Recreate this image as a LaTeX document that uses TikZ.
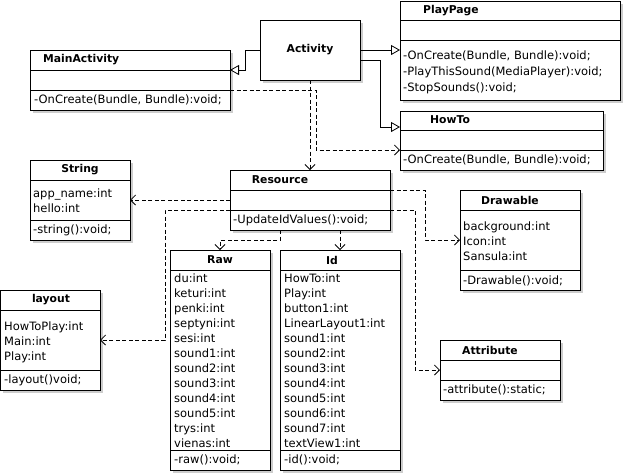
\documentclass[tikz,border=0pt]{standalone}
\usepackage{fontspec}
\newfontfamily\umlf{DejaVu Sans}
\usetikzlibrary{arrows.meta}
\definecolor{shadowc}{RGB}{205,205,205}
\newcommand\umlcls[5]{%
  \fill[shadowc] (#2+3,#3+3) rectangle (#4+3,#5+3);
  \node[clsbox, minimum width={#4-#2}, minimum height={#5-#3}, anchor=north west] (#1) at (#2,#3) {};
}
\newcommand\umlsep[3]{\draw[sepline] (#1,#3) -- (#2,#3);}
\tikzset{
  clsbox/.style={draw, fill=white, line width=0.8pt, inner sep=0pt, outer sep=0pt, rectangle},
  sepline/.style={line width=0.8pt},
  ttl/.style={font=\umlf\bfseries\fontsize{10.8}{13}\selectfont, inner sep=0pt},
  txt/.style={font=\umlf\fontsize{11.5}{15}\selectfont, inner sep=0pt, align=left, anchor=west},
  txtblk/.style={font=\umlf\fontsize{11.5}{15}\selectfont, inner sep=0pt, align=left, anchor=north west},
  inh/.style={line width=0.8pt, -{Triangle[open, length=9pt, width=10pt]}},
  dep/.style={line width=0.8pt, dash pattern=on 4pt off 2.5pt, -{Straight Barb[length=5pt, width=10pt]}},
}
\begin{document}
\begin{tikzpicture}[x=1pt, y=-1pt]
\useasboundingbox (0,0) rectangle (625,475);
% Activity
\umlcls{act}{260}{20}{360}{80}
\node[ttl] (actT) at (310,50) {Activity};
% MainActivity
\umlcls{main}{30}{50}{230}{110}
\umlsep{30}{230}{70}\umlsep{30}{230}{90}
\node[ttl, anchor=west] (mainT) at (43,60) {MainActivity};
\node[txt] (mainM) at (34,100) {-OnCreate(Bundle, Bundle):void;};
% PlayPage
\umlcls{play}{400}{1}{620}{100}
\umlsep{400}{620}{20}\umlsep{400}{620}{40}
\node[ttl, anchor=west] (playT) at (423,11) {PlayPage};
\node[txtblk, font=\umlf\fontsize{11.5}{16}\selectfont] (playM) at (403,51) {-OnCreate(Bundle, Bundle):void;\\-PlayThisSound(MediaPlayer):void;\\-StopSounds():void;};
% HowTo
\umlcls{how}{400}{111}{603}{170}
\umlsep{400}{603}{130}\umlsep{400}{603}{150}
\node[ttl, anchor=west] (howT) at (430,120) {HowTo};
\node[txt] (howM) at (403,160) {-OnCreate(Bundle, Bundle):void;};
% String
\umlcls{str}{30}{160}{130}{240}
\umlsep{30}{130}{180}\umlsep{30}{130}{220}
\node[ttl] (strT) at (80,170) {String};
\node[txtblk] (strA) at (33,189) {app\_name:int\\hello:int};
\node[txt] (strM) at (33,230) {-string():void;};
% Resource
\umlcls{res}{230}{170}{390}{230}
\umlsep{230}{390}{190}\umlsep{230}{390}{210}
\node[ttl] (resT) at (280,180) {Resource};
\node[txt] (resM) at (233,220) {-UpdateIdValues():void;};
% Drawable
\umlcls{draw}{460}{190}{580}{290}
\umlsep{460}{580}{210}\umlsep{460}{580}{270}
\node[ttl] (drawT) at (510,200) {Drawable};
\node[txtblk] (drawA) at (463,222) {background:int\\Icon:int\\Sansula:int};
\node[txt] (drawM) at (463,281) {-Drawable():void;};
% Raw
\umlcls{raw}{170}{250}{270}{470}
\umlsep{170}{270}{270}\umlsep{170}{270}{450}
\node[ttl] (rawT) at (220,260) {Raw};
\node[txtblk] (rawA) at (174,274) {du:int\\keturi:int\\penki:int\\septyni:int\\sesi:int\\sound1:int\\sound2:int\\sound3:int\\sound4:int\\sound5:int\\trys:int\\vienas:int};
\node[txt] (rawM) at (174,460) {-raw():void;};
% Id
\umlcls{id}{280}{250}{400}{470}
\umlsep{280}{400}{270}\umlsep{280}{400}{450}
\node[ttl] (idT) at (332,260) {Id};
\node[txtblk] (idA) at (284,274) {HowTo:int\\Play:int\\button1:int\\LinearLayout1:int\\sound1:int\\sound2:int\\sound3:int\\sound4:int\\sound5:int\\sound6:int\\sound7:int\\textView1:int};
\node[txt] (idM) at (284,460) {-id():void;};
% layout
\umlcls{lay}{0}{290}{100}{390}
\umlsep{0}{100}{310}\umlsep{0}{100}{370}
\node[ttl] (layT) at (51,300) {layout};
\node[txtblk] (layA) at (4,322) {HowToPlay:int\\Main:int\\Play:int};
\node[txt] (layM) at (4,380) {-layout()void;};
% Attribute
\umlcls{attr}{440}{340}{560}{400}
\umlsep{440}{560}{360}\umlsep{440}{560}{380}
\node[ttl] (attrT) at (490,350) {Attribute};
\node[txt] (attrM) at (443,390) {-attribute():static;};
% connectors
\draw[inh] (act.west) -- (245,50) -- (245,70) -- (main.east |- 0,70);
\draw[inh] (act.east) -- (play.west |- act.east);
\draw[inh] (act.east |- 0,60) -- (380,60) -- (380,127) -- (how.west |- 0,127);
\draw[dep] (act.south) -- (res.north -| act.south);
\draw[dep] (main.east |- 0,90) -- (316,90) -- (316,150) -- (how.west |- 0,150);
\draw[dep] (res.west |- 0,200) -- (str.east |- 0,200);
\draw[dep] (res.west |- 0,210) -- (165,210) -- (165,340) -- (lay.east |- 0,340);
\draw[dep] (res.south -| 280,0) -- (280,240) -- (220,240) -- (raw.north);
\draw[dep] (res.south -| 340,0) -- (id.north -| 340,0);
\draw[dep] (res.east |- 0,190) -- (425,190) -- (425,240) -- (draw.west |- 0,240);
\draw[dep] (res.east |- 0,210) -- (415,210) -- (415,370) -- (attr.west |- 0,370);
\end{tikzpicture}
\end{document}
